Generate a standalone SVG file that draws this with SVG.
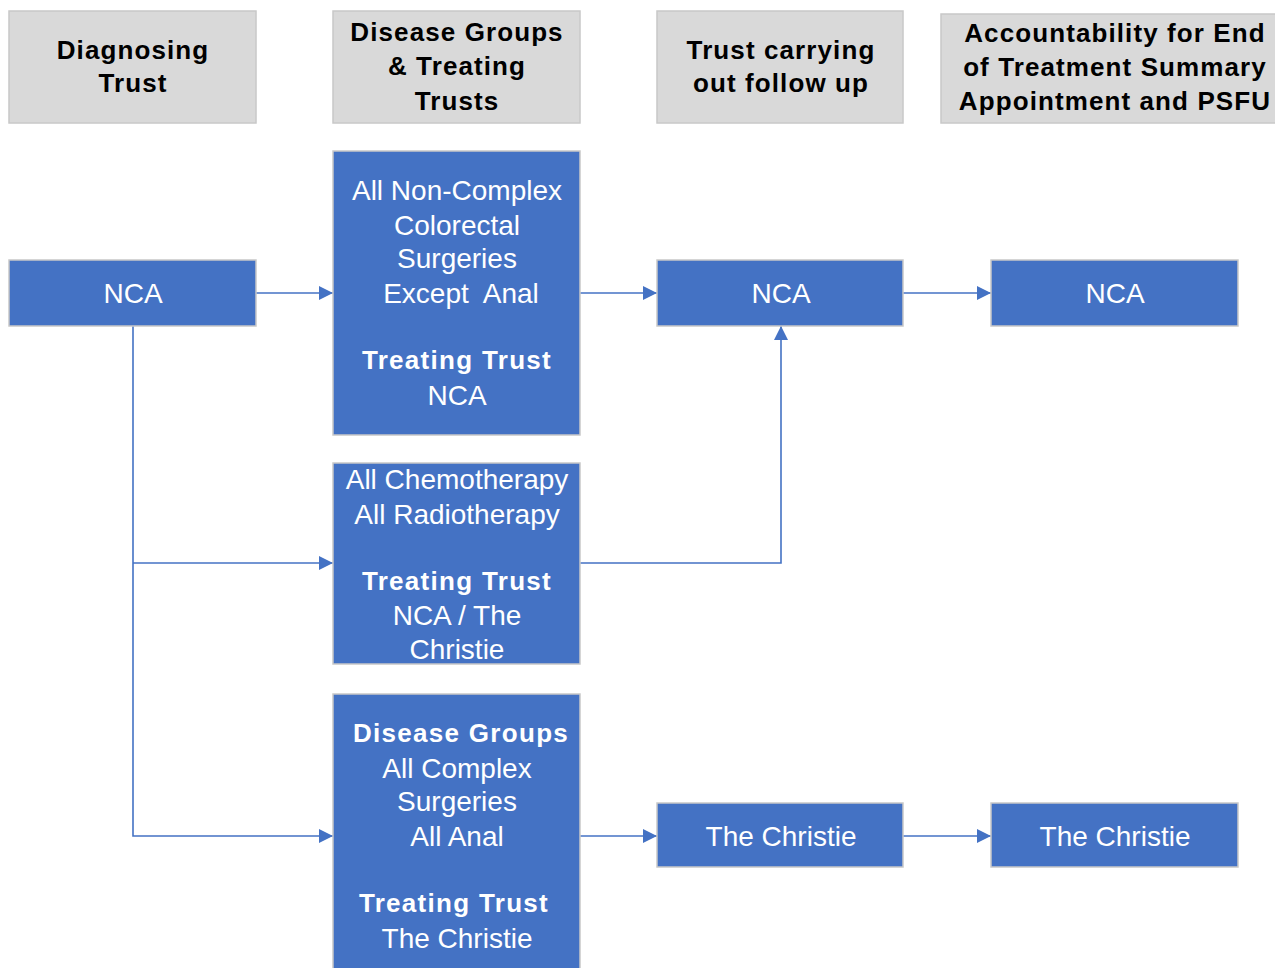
<svg xmlns="http://www.w3.org/2000/svg" width="1275" height="968" viewBox="0 0 1275 968">
<style>
.hdr{fill:#D9D9D9;stroke:#C8C8C8;stroke-width:1.5}
.box{fill:#4472C4;stroke:#C8C8C8;stroke-width:1.5}
.ht{font-family:"Liberation Sans",Arial,sans-serif;font-size:26px;font-weight:bold;fill:#000;text-anchor:middle;letter-spacing:1.1px}
.bt{font-family:"Liberation Sans",Arial,sans-serif;font-size:28px;fill:#fff;text-anchor:middle}
.bb{font-family:"Liberation Sans",Arial,sans-serif;font-size:26px;font-weight:bold;fill:#fff;text-anchor:middle;letter-spacing:1.3px}
.ln{fill:none;stroke:#4472C4;stroke-width:1.6}
</style>
<defs>
<marker id="ah" viewBox="0 0 14 14" refX="14" refY="7" markerWidth="14" markerHeight="14" markerUnits="userSpaceOnUse" orient="auto">
<path d="M0,0 L14,7 L0,14 Z" fill="#4472C4"/>
</marker>
</defs>
<g id="header-diagnosing">
<rect class="hdr" x="9" y="11" width="247" height="112"/>
<text class="ht" x="133" y="59">Diagnosing</text>
<text class="ht" x="133" y="92">Trust</text>
</g>
<g id="header-disease">
<rect class="hdr" x="333" y="11" width="247" height="112"/>
<text class="ht" x="457" y="41">Disease Groups</text>
<text class="ht" x="457" y="75">&amp; Treating</text>
<text class="ht" x="457" y="110">Trusts</text>
</g>
<g id="header-followup">
<rect class="hdr" x="657" y="11" width="246" height="112"/>
<text class="ht" x="781" y="59">Trust carrying</text>
<text class="ht" x="781" y="92">out follow up</text>
</g>
<g id="header-accountability">
<rect class="hdr" x="941" y="14" width="340" height="109"/>
<text class="ht" x="1115" y="42">Accountability for End</text>
<text class="ht" x="1115" y="76">of Treatment Summary</text>
<text class="ht" x="1115" y="110">Appointment and PSFU</text>
</g>
<g id="connectors">
<path class="ln" d="M256,293 H333" marker-end="url(#ah)"/>
<path class="ln" d="M580,293 H657" marker-end="url(#ah)"/>
<path class="ln" d="M903,293 H991" marker-end="url(#ah)"/>
<path class="ln" d="M133,326 V836 H333" marker-end="url(#ah)"/>
<path class="ln" d="M133,563 H333" marker-end="url(#ah)"/>
<path class="ln" d="M580,563 H781 V326" marker-end="url(#ah)"/>
<path class="ln" d="M580,836 H657" marker-end="url(#ah)"/>
<path class="ln" d="M903,836 H991" marker-end="url(#ah)"/>
</g>
<g id="nca-diagnosing">
<rect class="box" x="9" y="260" width="247" height="66"/>
<text class="bt" x="133" y="303">NCA</text>
</g>
<g id="non-complex">
<rect class="box" x="333" y="151" width="247" height="284"/>
<text class="bt" x="457" y="200">All Non-Complex</text>
<text class="bt" x="457" y="235">Colorectal</text>
<text class="bt" x="457" y="268">Surgeries</text>
<text class="bt" x="461" y="303" xml:space="preserve">Except  Anal</text>
<text class="bb" x="457" y="369">Treating Trust</text>
<text class="bt" x="457" y="405">NCA</text>
</g>
<g id="nca-followup">
<rect class="box" x="657" y="260" width="246" height="66"/>
<text class="bt" x="781" y="303">NCA</text>
</g>
<g id="nca-accountability">
<rect class="box" x="991" y="260" width="247" height="66"/>
<text class="bt" x="1115" y="303">NCA</text>
</g>
<g id="chemo-radio">
<rect class="box" x="333" y="463" width="247" height="201"/>
<text class="bt" x="457" y="489">All Chemotherapy</text>
<text class="bt" x="457" y="524">All Radiotherapy</text>
<text class="bb" x="457" y="590">Treating Trust</text>
<text class="bt" x="457" y="625">NCA / The</text>
<text class="bt" x="457" y="659">Christie</text>
</g>
<g id="complex">
<rect class="box" x="333" y="694" width="247" height="280"/>
<text class="bb" x="461" y="742">Disease Groups</text>
<text class="bt" x="457" y="778">All Complex</text>
<text class="bt" x="457" y="811">Surgeries</text>
<text class="bt" x="457" y="846">All Anal</text>
<text class="bb" x="454" y="912">Treating Trust</text>
<text class="bt" x="457" y="948">The Christie</text>
</g>
<g id="christie-followup">
<rect class="box" x="657" y="803" width="246" height="64"/>
<text class="bt" x="781" y="846">The Christie</text>
</g>
<g id="christie-accountability">
<rect class="box" x="991" y="803" width="247" height="64"/>
<text class="bt" x="1115" y="846">The Christie</text>
</g>
</svg>
